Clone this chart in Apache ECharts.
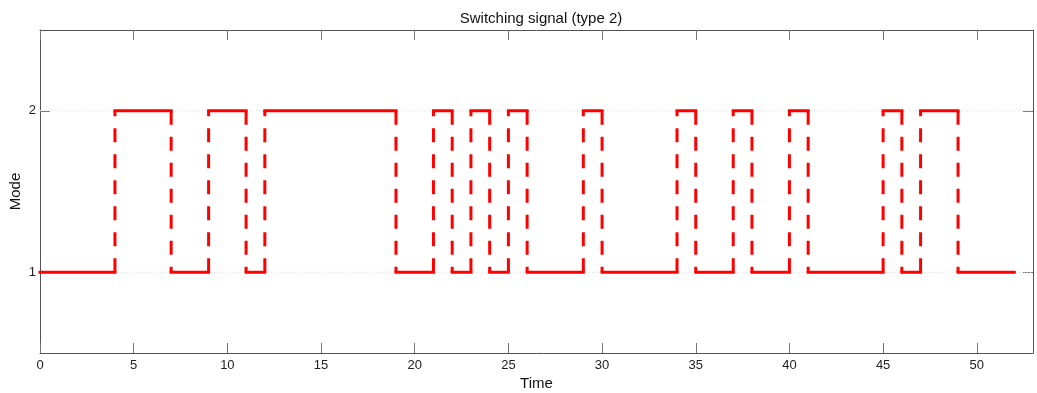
<!DOCTYPE html>
<html><head><meta charset="utf-8">
<script src="https://cdn.jsdelivr.net/npm/echarts@6/dist/echarts.min.js"></script>
<style>html,body{margin:0;padding:0;background:#fff}#c{width:1037px;height:393px}</style>
</head><body><div id="c"></div>
<script>
const tStart = 0;
const tEnd = 52;
const switchTimes = [4,7,9,11,12,19,21,22,23,24,25,26,29,30,34,35,37,38,40,41,45,46,47,49];
const modes = [1,2,1,2,1,2,1,2,1,2,1,2,1,2,1,2,1,2,1,2,1,2,1,2,1];
const xTicks = [0,5,10,15,20,25,30,35,40,45,50];
const yTicks = [1,2];
const xMin = 0, xMax = 53, yMin = 0.5, yMax = 2.5;

const bounds = [tStart].concat(switchTimes, [tEnd]);
const horiz = [];
for (let i = 0; i < modes.length; i++) {
  horiz.push([bounds[i], modes[i]], [bounds[i+1], modes[i]]);
  if (i < modes.length - 1) horiz.push([null, null]);
}
const vert = [];
switchTimes.forEach((t, i) => {
  vert.push([t, modes[i]], [t, modes[i+1]], [null, null]);
});
const gridData = [];
yTicks.forEach(v => { gridData.push([xMin, v], [xMax, v], [null, null]); });

const axisColor = '#555';
const font = 'Liberation Sans, Arial, Helvetica, sans-serif';
const chart = echarts.init(document.getElementById('c'));
chart.setOption({
  animation: false,
  title: { text: 'Switching signal (type 2)', left: 536, top: 6, textAlign: 'center',
    textStyle: { fontSize: 15, fontWeight: 'normal', color: '#111', fontFamily: font } },
  grid: { left: 40, right: 4, top: 30, bottom: 40, containLabel: false, outerBoundsMode: 'none' },
  xAxis: [{
    type: 'value', min: xMin, max: xMax, interval: 5, position: 'bottom',
    name: 'Time', nameLocation: 'middle', nameGap: 23, nameMoveOverlap: false,
    nameTextStyle: { fontSize: 15, color: '#111', fontFamily: font },
    axisLine: { lineStyle: { color: axisColor } },
    axisTick: { inside: true, length: 10, customValues: xTicks, lineStyle: { color: '#777' } },
    axisLabel: { customValues: xTicks, fontSize: 13, color: '#222', fontFamily: font, margin: 6 },
    splitLine: { show: false }
  }, {
    type: 'value', min: xMin, max: xMax, interval: 5, position: 'top',
    axisLine: { show: true, onZero: false, lineStyle: { color: axisColor } },
    axisTick: { inside: true, length: 10, customValues: xTicks, lineStyle: { color: '#777' } },
    axisLabel: { show: false }, splitLine: { show: false }
  }],
  yAxis: [{
    type: 'value', min: yMin, max: yMax, interval: 0.5, position: 'left',
    name: 'Mode', nameLocation: 'middle', nameGap: 17, nameRotate: 90, nameMoveOverlap: false,
    nameTextStyle: { fontSize: 15, color: '#111', fontFamily: font },
    axisLine: { show: true, lineStyle: { color: axisColor } },
    axisTick: { show: true, inside: true, length: 10, customValues: yTicks, lineStyle: { color: '#777' } },
    axisLabel: { customValues: yTicks, fontSize: 13, color: '#222', fontFamily: font, margin: 4 },
    splitLine: { show: false }
  }, {
    type: 'value', min: yMin, max: yMax, interval: 0.5, position: 'right',
    axisLine: { show: true, onZero: false, lineStyle: { color: axisColor } },
    axisTick: { show: true, inside: true, length: 10, customValues: yTicks, lineStyle: { color: '#777' } },
    axisLabel: { show: false }, splitLine: { show: false }
  }],
  series: [{
    type: 'line', data: gridData, symbol: 'none', connectNulls: false, silent: true,
    lineStyle: { color: '#dcdcdc', width: 1, type: [1, 2] }, z: 1
  }, {
    type: 'line', data: horiz, symbol: 'none', connectNulls: false, silent: true,
    lineStyle: { color: '#ff0000', width: 3, cap: 'square', join: 'miter' }, z: 3
  }, {
    type: 'line', data: vert, symbol: 'none', connectNulls: false, silent: true,
    lineStyle: { color: '#ff0000', width: 3, type: [14, 12] }, z: 3
  }]
});
</script></body></html>
